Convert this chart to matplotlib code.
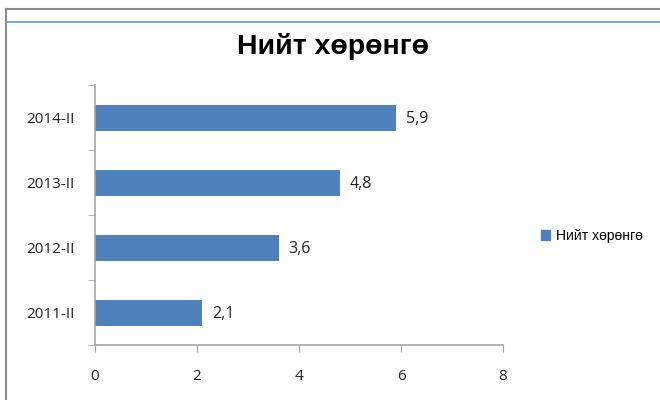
import matplotlib
matplotlib.use("Agg")
import matplotlib.pyplot as plt
from matplotlib.lines import Line2D
from matplotlib.patches import Patch

categories = ["2011-II", "2012-II", "2013-II", "2014-II"]
values = [2.1, 3.6, 4.8, 5.9]
value_labels = ["2,1", "3,6", "4,8", "5,9"]
xticks = [0, 2, 4, 6, 8]
title = "Нийт хөрөнгө"
series_name = "Нийт хөрөнгө"

W, H = 660, 400
fig = plt.figure(figsize=(W / 100, H / 100), dpi=100)
fig.patch.set_facecolor("white")

# frame lines
fig.add_artist(Line2D([6 / W, 1], [1 - 9 / H, 1 - 9 / H], color="#8c8c8c", lw=1.5))
fig.add_artist(Line2D([6 / W, 6 / W], [0, 1 - 9 / H], color="#8c8c8c", lw=1.5))
fig.add_artist(Line2D([6 / W, 1], [1 - 22 / H, 1 - 22 / H], color="#5b9bd5", lw=1.2))

left, right = 95, 503
top, bottom = 85, 345
ax = fig.add_axes([left / W, 1 - bottom / H, (right - left) / W, (bottom - top) / H])

color = "#4F81BD"
ypos = list(range(len(categories)))
ax.barh(ypos, values, height=0.4, color=color, zorder=2)
for y, v, lab in zip(ypos, values, value_labels):
    ax.text(v + 0.2, y - 0.02, lab, va="center", ha="left", fontsize=11.5,
            family="Open Sans", color="#222222")

ax.set_xlim(0, 8)
ax.set_ylim(-0.5, len(categories) - 0.5)
ax.set_xticks(xticks)
ax.set_xticklabels([str(t) for t in xticks], fontsize=11, family="Open Sans", color="#222222")
ax.set_yticks(ypos)
ax.set_yticklabels(categories, fontsize=11, family="Open Sans", color="#222222")
ax.set_yticks([-0.5 + i for i in range(len(categories) + 1)], minor=True)
ax.tick_params(axis="y", which="major", length=0, pad=15)
ax.tick_params(axis="y", which="minor", length=5, color="#a6a6a6", direction="out")
ax.tick_params(axis="x", which="major", length=5, color="#a6a6a6", direction="out", pad=12)

for s in ["top", "right"]:
    ax.spines[s].set_visible(False)
for s in ["left", "bottom"]:
    ax.spines[s].set_color("#a6a6a6")
    ax.spines[s].set_linewidth(1.2)

fig.text(333 / W, 1 - 47 / H, title, ha="center", va="center", fontsize=20.5,
         fontweight="bold", family="Liberation Sans")

handle = Patch(facecolor=color, edgecolor=color)
fig.legend([handle], [series_name], loc="center left", bbox_to_anchor=(528 / W, 1 - 236 / H),
           frameon=False, prop={"family": "Liberation Sans", "size": 10},
           handlelength=0.7, handleheight=0.7, handletextpad=0.4)

fig.savefig("out.png", dpi=100, facecolor="white")
